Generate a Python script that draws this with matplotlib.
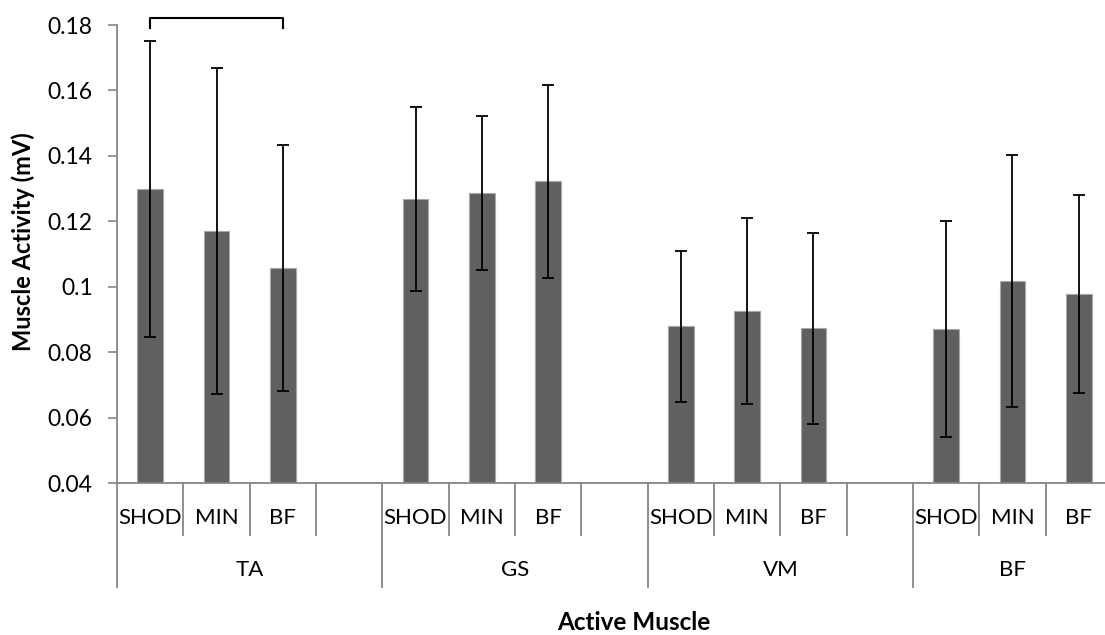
import numpy as np
import matplotlib
matplotlib.use("Agg")
import matplotlib.pyplot as plt
import matplotlib.transforms as mtransforms

# データ
groups = ["TA", "GS", "VM", "BF"]
conditions = ["SHOD", "MIN", "BF"]
means = [
    [0.1299, 0.1171, 0.1057],  # TA
    [0.1268, 0.1287, 0.1322],  # GS
    [0.0879, 0.0926, 0.0873],  # VM
    [0.0870, 0.1018, 0.0979],  # BF
]
sds = [
    [0.0453, 0.0498, 0.0376],
    [0.0282, 0.0236, 0.0296],
    [0.0232, 0.0285, 0.0293],
    [0.0330, 0.0386, 0.0303],
]
y_ticks = [0.04, 0.06, 0.08, 0.1, 0.12, 0.14, 0.16, 0.18]
y_ticklabels = ["0.04", "0.06", "0.08", "0.1", "0.12", "0.14", "0.16", "0.18"]

plt.rcParams["font.family"] = ["Lato", "DejaVu Sans"]

fig = plt.figure(figsize=(11.05, 6.35), dpi=100)
ax = fig.add_axes([117 / 1105, 151.7 / 635, 995 / 1105, 458.3 / 635])

# 各バーのx位置 (グループ間に空きスロットを1つ)
xs, ys, es = [], [], []
for g in range(len(groups)):
    for i in range(len(conditions)):
        xs.append(4 * g + i)
        ys.append(means[g][i])
        es.append(sds[g][i])
xs = np.array(xs)
ys = np.array(ys)
es = np.array(es)

ax.bar(xs, ys - 0.04, bottom=0.04, width=0.39, color="#606060",
       edgecolor="#a8a8a8", linewidth=0.8, zorder=2)
ax.errorbar(xs, ys, yerr=es, fmt="none", ecolor="black", elinewidth=1.3,
            capsize=4, capthick=1.3, zorder=3)

n_slots = 15
ax.set_xlim(-0.5, n_slots - 0.5)
ax.set_ylim(0.04, 0.18)
ax.set_yticks(y_ticks)
ax.set_yticklabels(y_ticklabels, fontsize=16.5)
ax.set_xticks([])
ax.tick_params(axis="y", direction="out", length=6.5, width=1.2,
               color="#868686", pad=11)

for side in ["top", "right"]:
    ax.spines[side].set_visible(False)
for side in ["left", "bottom"]:
    ax.spines[side].set_color("#868686")
    ax.spines[side].set_linewidth(1.3)

# 多段のカテゴリ軸
trans = mtransforms.blended_transform_factory(ax.transData, ax.transAxes)
group_bounds = [-0.5, 3.5, 7.5, 11.5]
for k in range(n_slots):
    b = k - 0.5
    low = -0.2256 if b in group_bounds else -0.1128
    ax.plot([b, b], [0, low], transform=trans, color="#868686", lw=1.3,
            clip_on=False)

for x in xs:
    label = conditions[x % 4]
    ax.text(x, -0.0757, label, transform=trans, ha="center", va="center",
            fontsize=16)

group_centers = [1.5, 5.5, 9.5, 13]
for c, name in zip(group_centers, groups):
    ax.text(c, -0.189, name, transform=trans, ha="center", va="center",
            fontsize=16)

# 有意差のブラケット
ax.plot([0, 0, 2, 2], [0.1791, 0.182, 0.182, 0.1791], color="black",
        lw=1.5, clip_on=False)

fig.text(23 / 1105, 1 - 242 / 635, "Muscle Activity (mV)", rotation=90,
         ha="center", va="center", fontsize=17, fontweight="bold")
fig.text(634 / 1105, 1 - 623 / 635, "Active Muscle", ha="center",
         va="center", fontsize=17.5, fontweight="bold")

fig.savefig("out.png", dpi=100)
